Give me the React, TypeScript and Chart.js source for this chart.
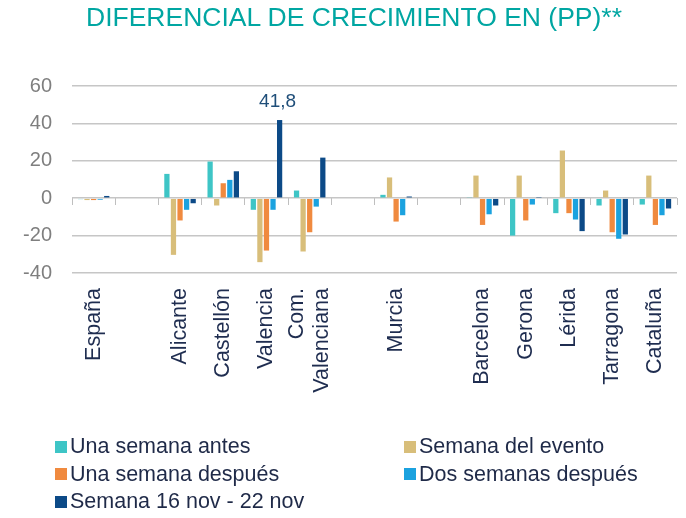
import React, { useEffect, useRef } from 'react';
import { Chart, registerables } from 'chart.js';

Chart.register(...registerables);

const title = 'DIFERENCIAL DE CRECIMIENTO EN (PP)**';

const categories: (string | string[])[] = [
  'España', '', 'Alicante', 'Castellón', 'Valencia', ['Com.', 'Valenciana'], '',
  'Murcia', '', 'Barcelona', 'Gerona', 'Lérida', 'Tarragona', 'Cataluña',
];

const unaSemanaAntes = [-0.5, null, 13.0, 19.6, -6.2, 4.1, null, 1.8, null, 0.3, -20.0, -8.0, -3.9, -3.4];
const semanaDelEvento = [-1.0, null, -30.3, -3.9, -34.2, -28.5, null, 11.1, null, 12.1, 12.1, 25.5, 4.1, 12.1];
const unaSemanaDespues = [-1.0, null, -11.9, 8.0, -28.0, -18.2, null, -12.5, null, -14.3, -11.9, -8.0, -18.2, -14.3];
const dosSemanasDespues = [-0.8, null, -6.2, 9.8, -6.2, -4.5, null, -9.1, null, -8.6, -3.4, -11.4, -21.7, -9.1];
const semana16a22Nov = [1.2, null, -2.7, 14.4, 41.8, 21.7, null, 0.9, null, -3.9, 0.2, -17.6, -19.4, -5.5];

const seriesNames = [
  'Una semana antes',
  'Semana del evento',
  'Una semana después',
  'Dos semanas después',
  'Semana 16 nov - 22 nov',
];
const seriesData = [unaSemanaAntes, semanaDelEvento, unaSemanaDespues, dosSemanasDespues, semana16a22Nov];
const seriesColors = ['#3EC5C6', '#D8BE7A', '#F08A3F', '#1BA2DF', '#0C4A87'];

const yMin = -40;
const yMax = 60;
const yStep = 20;

const FONT = '"Liberation Sans", Arial, Helvetica, sans-serif';

export default function App() {
  const canvasRef = useRef<HTMLCanvasElement>(null);

  useEffect(() => {
    if (!canvasRef.current) return;
    const peakSeries = 4;
    const peakValues = seriesData[peakSeries] as (number | null)[];
    let peakIndex = 0;
    peakValues.forEach((v, i) => {
      if (v != null && v > (peakValues[peakIndex] ?? -Infinity)) peakIndex = i;
    });

    const peakLabel = {
      id: 'peakLabel',
      afterDatasetsDraw(chart: any) {
        const el = chart.getDatasetMeta(peakSeries).data[peakIndex];
        const v = peakValues[peakIndex];
        if (!el || v == null) return;
        const ctx = chart.ctx;
        ctx.save();
        ctx.font = `19px ${FONT}`;
        ctx.fillStyle = '#1F4E79';
        ctx.textAlign = 'center';
        ctx.textBaseline = 'alphabetic';
        ctx.fillText(v.toFixed(1).replace('.', ','), el.x - 2, el.y - 13);
        ctx.restore();
      },
    };

    const categoryLabels = {
      id: 'categoryLabels',
      afterDraw(chart: any) {
        const xs = chart.scales.x;
        const ctx = chart.ctx;
        const top = chart.chartArea.bottom + 15;
        const lineH = 25;
        ctx.save();
        ctx.font = `21.5px ${FONT}`;
        ctx.fillStyle = '#1F2D50';
        ctx.textAlign = 'right';
        ctx.textBaseline = 'middle';
        categories.forEach((lab, i) => {
          const lines = Array.isArray(lab) ? lab : [lab];
          if (!lines.join('')) return;
          const cx = xs.getPixelForTick(i);
          lines.forEach((line, j) => {
            const x = cx + (j - (lines.length - 1) / 2) * lineH;
            ctx.save();
            ctx.translate(x, top);
            ctx.rotate(-Math.PI / 2);
            ctx.fillText(line, 0, 0);
            ctx.restore();
          });
        });
        ctx.restore();
      },
    };

    const chart = new Chart(canvasRef.current, {
      type: 'bar',
      data: {
        labels: categories as any,
        datasets: seriesNames.map((name, i) => ({
          label: name,
          data: seriesData[i] as any,
          backgroundColor: seriesColors[i],
          borderWidth: 0,
          categoryPercentage: 0.76,
          barPercentage: 0.8,
        })),
      },
      options: {
        animation: false,
        responsive: false,
        layout: { padding: { top: 86, right: 9, left: 0, bottom: 0 } },
        plugins: {
          legend: { display: false },
          title: { display: false },
          tooltip: { enabled: false },
        },
        scales: {
          x: {
            type: 'category',
            position: 'bottom',
            offset: true,
            grid: { display: false, offset: true },
            border: { display: false },
            ticks: { display: false, autoSkip: false },
            afterFit: (s: any) => {
              s.height = 245;
            },
          },
          x2: {
            type: 'category',
            labels: categories as any,
            position: { y: 0 } as any,
            offset: true,
            grid: {
              display: true,
              offset: true,
              drawOnChartArea: false,
              drawTicks: true,
              tickLength: 7,
              color: '#BFBFBF',
              lineWidth: 1,
            },
            border: { display: false },
            ticks: { display: false, autoSkip: false },
            afterFit: (s: any) => {
              s.height = 0;
            },
          },
          y: {
            min: yMin,
            max: yMax,
            grid: { color: '#C6C6C6', lineWidth: 1.5, drawTicks: false },
            border: { display: false },
            ticks: {
              stepSize: yStep,
              padding: 20,
              color: '#7F7F7F',
              font: { family: FONT, size: 20 },
            },
            afterFit: (s: any) => {
              s.width = 72;
            },
          },
        },
      },
      plugins: [peakLabel, categoryLabels],
    });
    return () => chart.destroy();
  }, []);

  return (
    <div
      style={{
        position: 'fixed',
        left: 0,
        top: 0,
        width: 686,
        height: 518,
        background: '#FFFFFF',
        fontFamily: FONT,
        overflow: 'hidden',
      }}
    >
      <canvas
        ref={canvasRef}
        width={686}
        height={518}
        style={{ position: 'absolute', left: 0, top: 0, width: 686, height: 518 }}
      />
      <div
        style={{
          position: 'absolute',
          left: 86,
          top: 0,
          fontSize: 26.5,
          lineHeight: '34px',
          color: '#00A6A2',
          whiteSpace: 'nowrap',
        }}
      >
        {title}
      </div>
      <div
        style={{
          position: 'absolute',
          left: 55,
          top: 433,
          display: 'grid',
          gridTemplateColumns: '349px 280px',
          rowGap: 0,
        }}
      >
        {seriesNames.map((name, i) => (
          <div
            key={name}
            style={{
              display: 'flex',
              alignItems: 'center',
              height: 27.5,
              fontSize: 21.5,
              color: '#1F2A48',
              whiteSpace: 'nowrap',
            }}
          >
            <span
              style={{
                display: 'inline-block',
                width: 12,
                height: 12,
                background: seriesColors[i],
                marginRight: 3,
              }}
            />
            {name}
          </div>
        ))}
      </div>
    </div>
  );
}
